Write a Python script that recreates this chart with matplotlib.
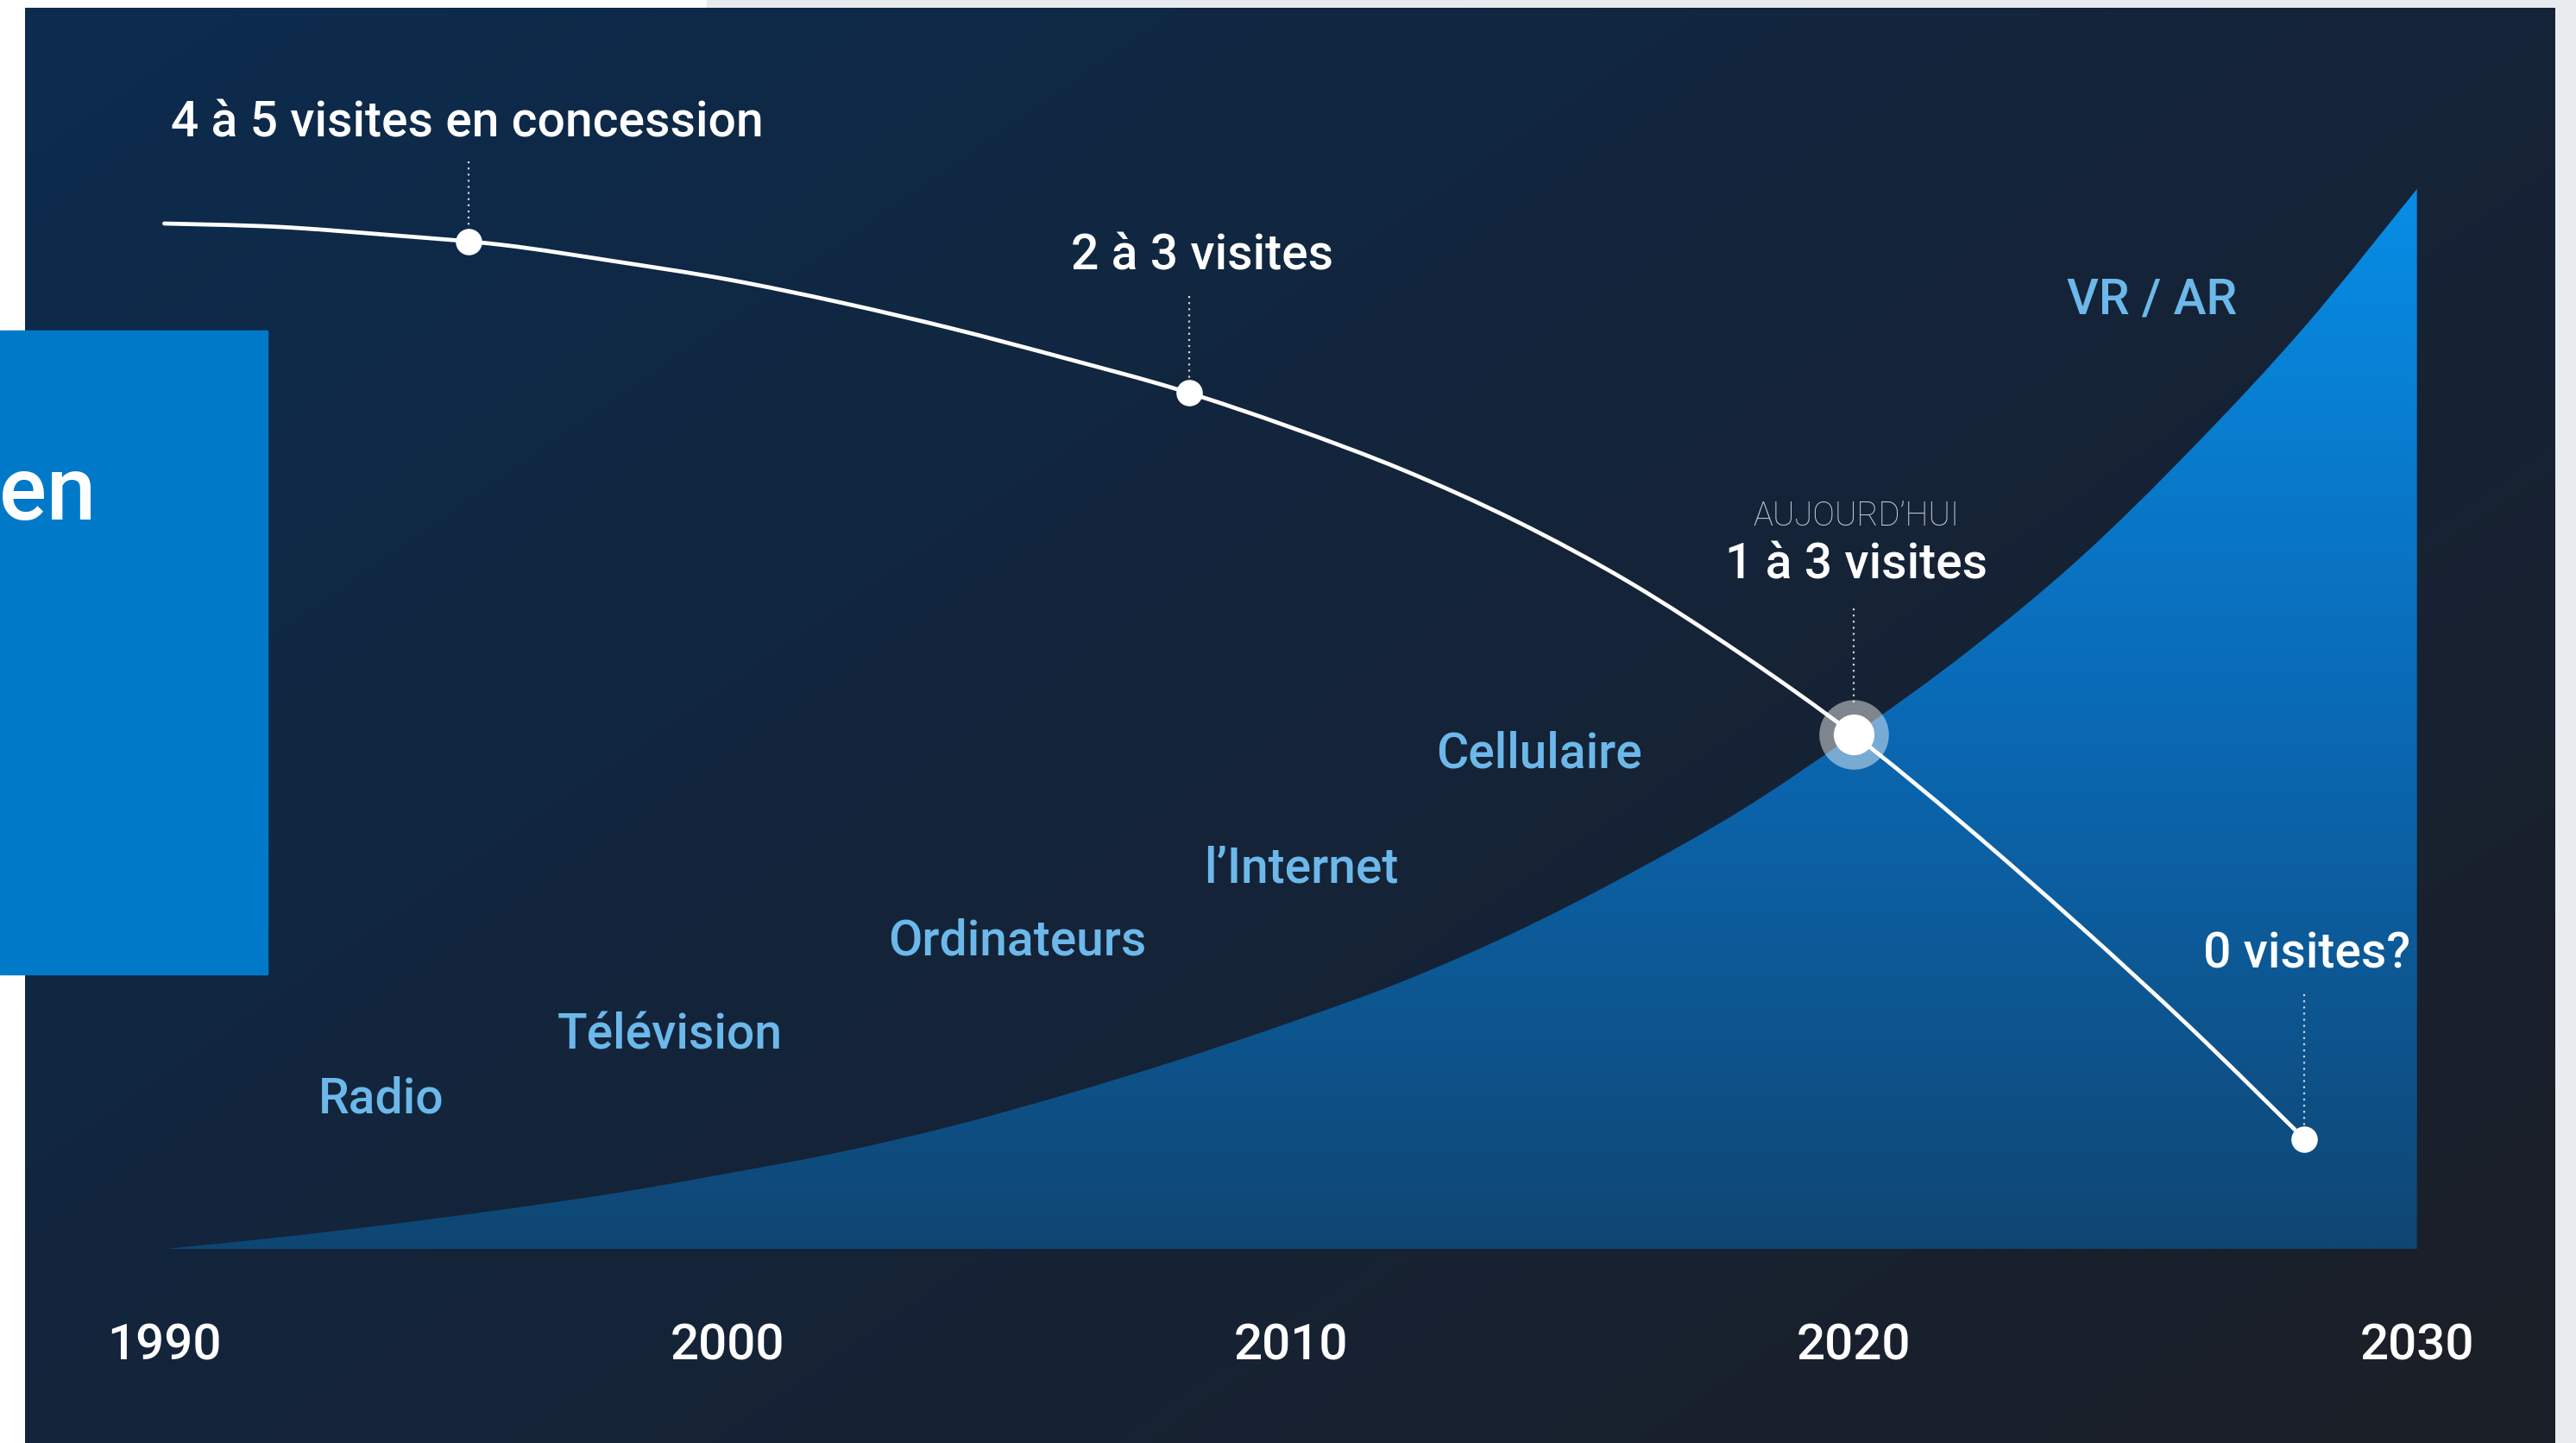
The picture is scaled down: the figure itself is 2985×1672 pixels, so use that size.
import numpy as np
import matplotlib.pyplot as plt
from matplotlib.patches import Rectangle, PathPatch
from matplotlib.path import Path
from matplotlib.colors import to_rgb

# --- data (height units are arbitrary) ---
years_area = [1990, 1992, 1994, 1996, 1998, 2000, 2002, 2004, 2006, 2008, 2010,
              2012, 2014, 2016, 2018, 2020, 2022, 2024, 2026, 2028, 2030]
tech_adoption = [0, 7, 15, 24, 34, 46, 59, 75, 94, 115, 138,
                 163, 193, 228, 267, 313, 363, 420, 487, 561, 645]

years_line = [1990, 1992, 1994, 1996, 1998, 2000, 2002, 2004, 2006, 2008,
              2010, 2012, 2014, 2016, 2018, 2020, 2022, 2024, 2026, 2028]
dealer_visits = [624, 622, 617, 611, 601, 590, 576, 560, 542, 523,
                 500, 474, 443, 406, 362, 313, 257, 197, 134, 67]

milestone_years = [1995.4, 2008.2, 2020.0, 2028.0]
milestone_vals = [613, 521, 313, 67]
milestone_labels = ['4 à 5 visites en concession', '2 à 3 visites', '1 à 3 visites', '0 visites?']

tech_labels = ['Radio', 'Télévision', 'Ordinateurs', 'l\u2019Internet', 'Cellulaire', 'VR / AR']
tech_label_years = [1993.85, 1998.98, 2005.14, 2010.19, 2014.42, 2025.3]
tech_label_vals = [91, 130, 187, 231, 301, 577]

tick_years = [1990, 2000, 2010, 2020, 2030]

# --- layout helpers (reference was laid out on a 1568 x 878 grid) ---
W, H = 1568, 878
PX = 34.28  # grid px per year


def gx(x):
    return 1990 + (x - 100) / PX


def gy(y):
    return 760 - y


def smooth(xs, ys):
    # catmull-rom through the points, as bezier segments
    p = np.column_stack([xs, ys]).astype(float)
    p = np.vstack([p[0], p, p[-1]])
    verts = [p[1]]
    codes = [Path.MOVETO]
    for i in range(1, len(p) - 2):
        c1 = p[i] + (p[i + 1] - p[i - 1]) / 6
        c2 = p[i + 1] - (p[i + 2] - p[i]) / 6
        verts += [c1, c2, p[i + 1]]
        codes += [Path.CURVE4] * 3
    return verts, codes


plt.rcParams['font.family'] = ['Roboto', 'DejaVu Sans']

fig = plt.figure(figsize=(29.85, 16.72), dpi=100, facecolor='white')
ax = fig.add_axes([0, 0, 1, 1])
ax.set_axis_off()

# light grey strips around the panel
ax.add_patch(Rectangle((gx(430), gy(5)), gx(W) - gx(430), 10, color='#e9ecef', zorder=0))
ax.add_patch(Rectangle((gx(1555), gy(H)), gx(W) - gx(1555), H, color='#e9ecef', zorder=0))

# dark panel with diagonal gradient
c0, c1, c2 = np.array(to_rgb('#0c2c4f')), np.array(to_rgb('#142439')), np.array(to_rgb('#1c1f27'))
u = np.linspace(0, 1, 300)[None, :]
v = np.linspace(0, 1, 200)[:, None]
t = np.clip(u * 0.55 + v * 0.45, 0, 1)[..., None]
bg = np.where(t < 0.5, c0 + (c1 - c0) * (t / 0.5), c1 + (c2 - c1) * ((t - 0.5) / 0.5))
ax.imshow(bg, extent=[gx(15), gx(1555), gy(H), gy(5)], origin='upper',
          aspect='auto', zorder=0.5, interpolation='bilinear')

# adoption area, vertical gradient clipped to the curve
top_c, mid_c, bot_c = np.array(to_rgb('#078de6')), np.array(to_rgb('#0a69b4')), np.array(to_rgb('#0f4673'))
s = np.linspace(0, 1, 256)[:, None, None]
grad = np.where(s < 0.5, bot_c + (mid_c - bot_c) * (s / 0.5), mid_c + (top_c - mid_c) * ((s - 0.5) / 0.5))
grad = np.repeat(grad, 2, axis=1)
im = ax.imshow(grad, extent=[years_area[0], years_area[-1], 0, max(tech_adoption)],
               origin='lower', aspect='auto', zorder=1, interpolation='bilinear')
verts, codes = smooth(years_area, tech_adoption)
verts += [(years_area[-1], 0), (years_area[0], 0), (years_area[0], 0)]
codes += [Path.LINETO, Path.LINETO, Path.CLOSEPOLY]
clip = PathPatch(Path(verts, codes), transform=ax.transData, facecolor='none', edgecolor='none')
ax.add_patch(clip)
im.set_clip_path(clip)

# dealer visits line
verts, codes = smooth(years_line, dealer_visits)
ax.add_patch(PathPatch(Path(verts, codes), facecolor='none', edgecolor='white', lw=3.4,
                       capstyle='round', zorder=3))

# dotted leaders + markers
lead_top = [662, 580, 390, 155]
lead_bot = [620, 528, 330, 75]
for yr, a, b in zip(milestone_years, lead_top, lead_bot):
    ax.plot([yr, yr], [a, b], color='white', lw=1.6, ls=(0, (1, 2.2)), alpha=0.8, zorder=3)

small = [0, 1, 3]
ax.plot([milestone_years[i] for i in small], [milestone_vals[i] for i in small], 'o',
        color='white', ms=22, mec='none', zorder=4)
ax.plot(milestone_years[2], milestone_vals[2], 'o', color='white', alpha=0.45, ms=58, mec='none', zorder=4)
ax.plot(milestone_years[2], milestone_vals[2], 'o', color='white', ms=34, mec='none', zorder=4)

# milestone labels
lab_pos = [(104, 75, 'left'), (732, 156, 'center'), (1130, 344, 'center'), (1404, 581, 'center')]
for text, (x, y, ha) in zip(milestone_labels, lab_pos):
    ax.text(gx(x), gy(y), text, color='white', fontsize=41, fontweight='medium',
            ha=ha, va='center', zorder=5)
ax.text(gx(1130), gy(314), 'AUJOURD\u2019HUI', color='#c9ced6', fontsize=27.5,
        fontweight='light', ha='center', va='center', zorder=5)

# technology labels
for text, yr, val in zip(tech_labels, tech_label_years, tech_label_vals):
    ax.text(yr, val, text, color='#6cb8ea', fontsize=41, fontweight='medium',
            ha='center', va='center', zorder=5)

# year axis labels
for yr in tick_years:
    ax.text(yr, gy(819), str(yr), color='white', fontsize=42, fontweight='medium',
            ha='center', va='center', zorder=5)

# blue overlay box on the left
ax.add_patch(Rectangle((gx(0), gy(593)), gx(163) - gx(0), 593 - 201, color='#007ac8', zorder=6))
ax.text(gx(59), gy(316), 'ven', color='white', fontsize=74, fontweight='medium',
        ha='right', va='baseline', zorder=7)

ax.set_xlim(gx(0), gx(W))
ax.set_ylim(gy(H), gy(0))

fig.savefig('out.png', dpi=100, facecolor='white')
